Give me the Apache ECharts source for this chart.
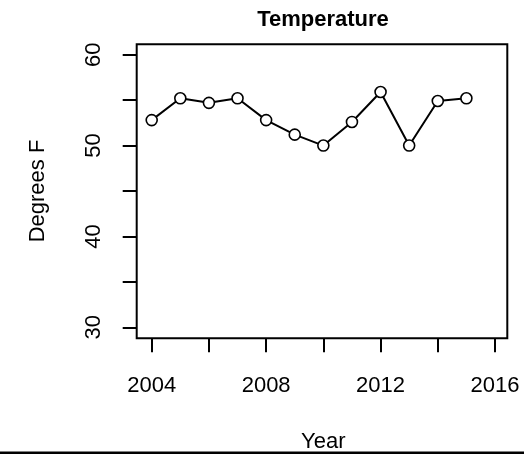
<!DOCTYPE html>
<html>
<head>
<meta charset="utf-8">
<script src="https://cdn.jsdelivr.net/npm/echarts@6/dist/echarts.min.js"></script>
<style>html,body{margin:0;padding:0;background:#fff;}#c{width:524px;height:454px;}</style>
</head>
<body>
<div id="c"></div>
<script>
const years = [2004, 2005, 2006, 2007, 2008, 2009, 2010, 2011, 2012, 2013, 2014, 2015];
const temps = [52.8, 55.2, 54.7, 55.2, 52.8, 51.2, 50.0, 52.6, 55.9, 50.0, 54.9, 55.2];
const xTicks = [2004, 2008, 2012, 2016];
const yTicks = [30, 40, 50, 60];

const FONT = '"Liberation Sans", Arial, sans-serif';
const chart = echarts.init(document.getElementById('c'), null, {renderer: 'canvas'});
const boxL = 136.7, boxT = 44.3, boxR = 507.3, boxB = 338.3;
const gL = 151.7, gR = 495, gT = 54.7, gB = 327.3;

chart.setOption({
  animation: false,
  backgroundColor: '#fff',
  title: {
    text: 'Temperature',
    left: (boxL + boxR) / 2 - 4,
    top: 4,
    textAlign: 'center',
    textStyle: {fontFamily: FONT, fontWeight: 'bold', fontSize: 22, color: '#000'}
  },
  grid: [
    {left: gL, top: gT, width: gR - gL, height: gB - gT, show: false,
     containLabel: false, outerBoundsMode: 'none'},
    {left: boxL, top: boxT, width: boxR - boxL, height: boxB - boxT, show: true,
     containLabel: false, outerBoundsMode: 'none',
     borderColor: '#000', borderWidth: 2, backgroundColor: 'transparent'}
  ],
  xAxis: [
    {
      type: 'value', gridIndex: 0, min: 2004, max: 2016, interval: 2,
      offset: boxB - gB,
      name: 'Year', nameLocation: 'middle', nameGap: 93,
      nameTextStyle: {fontFamily: FONT, fontSize: 22, color: '#000'},
      axisLine: {show: false},
      axisTick: {show: true, length: 14, lineStyle: {color: '#000', width: 2}},
      splitLine: {show: false},
      axisLabel: {
        margin: 37, fontFamily: FONT, fontSize: 22, color: '#000',
        formatter: v => xTicks.indexOf(v) >= 0 ? String(v) : ''
      }
    },
    {type: 'value', gridIndex: 1, show: false, min: 0, max: 1}
  ],
  yAxis: [
    {
      type: 'value', gridIndex: 0, min: 30, max: 60, interval: 5,
      offset: gL - boxL,
      name: 'Degrees F', nameLocation: 'middle', nameGap: 88, nameRotate: 90,
      nameTextStyle: {fontFamily: FONT, fontSize: 22, color: '#000'},
      axisLine: {show: false},
      axisTick: {show: true, length: 14, lineStyle: {color: '#000', width: 2}},
      splitLine: {show: false},
      axisLabel: {
        margin: 32, rotate: 90, fontFamily: FONT, fontSize: 22, color: '#000',
        formatter: v => yTicks.indexOf(v) >= 0 ? String(v) : ''
      }
    },
    {type: 'value', gridIndex: 1, show: false, min: 0, max: 1}
  ],
  series: [{
    type: 'line',
    xAxisIndex: 0, yAxisIndex: 0,
    data: years.map((y, i) => [y, temps[i]]),
    symbol: 'circle', symbolSize: 11,
    lineStyle: {color: '#000', width: 2},
    itemStyle: {color: '#fff', borderColor: '#000', borderWidth: 1.6}
  }],
  graphic: [{
    type: 'rect', shape: {x: 0, y: 451.5, width: 524, height: 3},
    style: {fill: '#000'}, silent: true
  }]
});
</script>
</body>
</html>
